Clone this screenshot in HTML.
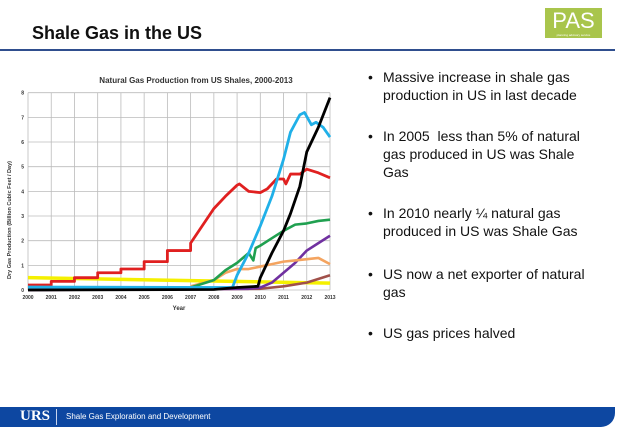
<!DOCTYPE html>
<html><head><meta charset="utf-8"><style>
body{margin:0;width:638px;height:442px;background:#fff;position:relative;overflow:hidden;font-family:"Liberation Sans",sans-serif}
.abs{position:absolute}
#bullets{left:368px;top:68px;font-size:14px;color:#111;line-height:18px}
.b{position:absolute;left:0;width:232px}
.b span.dot{position:absolute;left:0}
.b div{margin-left:15px;width:214px}
</style></head><body>
<div class="abs" style="left:32px;top:23px;font-size:18px;font-weight:bold;color:#111">Shale Gas in the US</div>
<div class="abs" style="left:0;top:49px;width:615px;height:2px;background:#2f4e8e"></div>
<div class="abs" style="left:545px;top:8px;width:57px;height:30px;background:#a9c54c;color:#fff;font-size:22px;text-align:center;line-height:26px">PAS<div style="font-size:3px;line-height:3px">planning advisory service</div></div>

<svg class="abs" style="left:0;top:70px" width="350" height="250">
<text x="196" y="13" text-anchor="middle" font-size="8" font-weight="bold" fill="#333">Natural Gas Production from US Shales, 2000-2013</text>
<text transform="translate(11,150) rotate(-90)" text-anchor="middle" font-size="5.5" font-weight="bold" fill="#333">Dry Gas Production (Billion Cubic Feet / Day)</text>
<text x="179" y="240" text-anchor="middle" font-size="6" font-weight="bold" fill="#333">Year</text>
<g id="grid"></g><g id="series"></g>
</svg>

<div id="bullets" class="abs">
<div class="b" style="top:0"><span class="dot">•</span><div>Massive increase in shale gas production in US in last decade</div></div>
<div class="b" style="top:59px"><span class="dot">•</span><div>In 2005&nbsp; less than 5% of natural gas produced in US was Shale Gas</div></div>
<div class="b" style="top:136px"><span class="dot">•</span><div>In 2010 nearly ¼ natural gas produced in US was Shale Gas</div></div>
<div class="b" style="top:197px"><span class="dot">•</span><div>US now a net exporter of natural gas</div></div>
<div class="b" style="top:256px"><span class="dot">•</span><div>US gas prices halved</div></div>
</div>

<div class="abs" style="left:0;top:407px;width:615px;height:20px;background:#0d47a1;border-bottom-right-radius:14px"></div>
<div class="abs" style="left:20px;top:408px;font-family:'Liberation Serif',serif;font-weight:bold;font-size:15px;color:#fff">URS</div>
<div class="abs" style="left:56px;top:409px;width:1px;height:16px;background:#c8d4ee"></div>
<div class="abs" style="left:66px;top:412px;font-size:8px;color:#fff">Shale Gas Exploration and Development</div>

<script>
const years=[2000,2001,2002,2003,2004,2005,2006,2007,2008,2009,2010,2011,2012,2013];
const yTicks=[0,1,2,3,4,5,6,7,8];
const redX=[2000,2001,2001,2002,2002,2003,2003,2004,2004,2005,2005,2006,2006,2007,2007,2007.5,2008,2008.5,2009,2009.1,2009.5,2010,2010.3,2010.7,2011,2011.1,2011.3,2011.7,2012,2012.5,2013];
const redY=[0.2,0.2,0.35,0.35,0.5,0.5,0.7,0.7,0.85,0.85,1.15,1.15,1.6,1.6,1.9,2.6,3.3,3.8,4.25,4.3,4.0,3.95,4.1,4.5,4.5,4.3,4.7,4.7,4.9,4.75,4.55];
const yellowX=[2000,2013];
const yellowY=[0.5,0.28];
const blueX=[2000,2008.8,2009,2009.5,2010,2010.5,2011,2011.3,2011.7,2011.9,2012.2,2012.4,2012.7,2013];
const blueY=[0.12,0.1,0.6,1.5,2.6,3.8,5.3,6.4,7.1,7.2,6.7,6.8,6.6,6.2];
const blackX=[2000,2008,2009,2009.9,2010,2010.5,2011,2011.3,2011.7,2012,2012.5,2013];
const blackY=[0,0.02,0.1,0.15,0.5,1.5,2.4,3.1,4.2,5.6,6.6,7.8];
const greenX=[2007,2008,2008.5,2009,2009.5,2009.7,2009.8,2010,2010.5,2011,2011.5,2012,2012.5,2013];
const greenY=[0.1,0.4,0.8,1.1,1.5,1.2,1.7,1.8,2.1,2.4,2.65,2.7,2.8,2.85];
const orangeX=[2007,2008,2008.5,2009,2009.5,2010,2010.5,2011,2011.5,2012,2012.5,2013];
const orangeY=[0.15,0.4,0.7,0.85,0.85,0.95,1.05,1.15,1.2,1.25,1.3,1.05];
const purpleX=[2000,2009.5,2010,2010.5,2011,2011.5,2012,2012.5,2013];
const purpleY=[0,0.05,0.1,0.3,0.7,1.1,1.6,1.9,2.2];
const brownX=[2000,2010,2011,2012,2013];
const brownY=[0,0.05,0.15,0.3,0.6];
const X0=28,X1=330,Y0=220,Y1=22.7;
const xs=v=>X0+(v-2000)*(X1-X0)/13;
const ys=v=>Y0-v*(Y0-Y1)/8;
const NS="http://www.w3.org/2000/svg";
const grid=document.getElementById('grid'),ser=document.getElementById('series');
function mk(tag,attrs,parent){const e=document.createElementNS(NS,tag);for(const k in attrs)e.setAttribute(k,attrs[k]);parent.appendChild(e);return e;}
years.forEach(y=>{
 const l=mk('line',{x1:xs(y),x2:xs(y),y1:Y1,y2:Y0,stroke:'#bbb','stroke-width':0.8},grid);
 
 
 const t=mk('text',{x:xs(y),y:Y0+9,'text-anchor':'middle','font-size':5,'font-weight':'bold',fill:'#333'},grid);
 t.textContent=y;
 
 
});
yTicks.forEach(v=>{
 const l=mk('line',{x1:X0,x2:X1,y1:ys(v),y2:ys(v),stroke:'#bbb','stroke-width':0.8},grid);
 
 
 const t=mk('text',{x:X0-4,y:ys(v)+2,'text-anchor':'end','font-size':5,'font-weight':'bold',fill:'#333'},grid);
 t.textContent=v;
 
 
});
function draw(xArr,yArr,color,w,name){
 const p=mk('polyline',{points:xArr.map((x,i)=>xs(x)+','+ys(yArr[i])).join(' '),fill:'none',stroke:color,'stroke-width':w,'stroke-linejoin':'round'},ser);
 
 
}
draw(yellowX,yellowY,'#f5f000',3.5,'series-yellow');
draw(brownX,brownY,'#a0504a',2.6,'series-brown');
draw(purpleX,purpleY,'#7030a0',2.6,'series-purple');
draw(orangeX,orangeY,'#f4a460',2.6,'series-orange');
draw(greenX,greenY,'#20a050',2.6,'series-green');
draw(redX,redY,'#e02020',2.8,'series-red');
draw(blueX,blueY,'#20b0e8',2.8,'series-blue');
draw(blackX,blackY,'#000',2.8,'series-black');
</script>
</body></html>
